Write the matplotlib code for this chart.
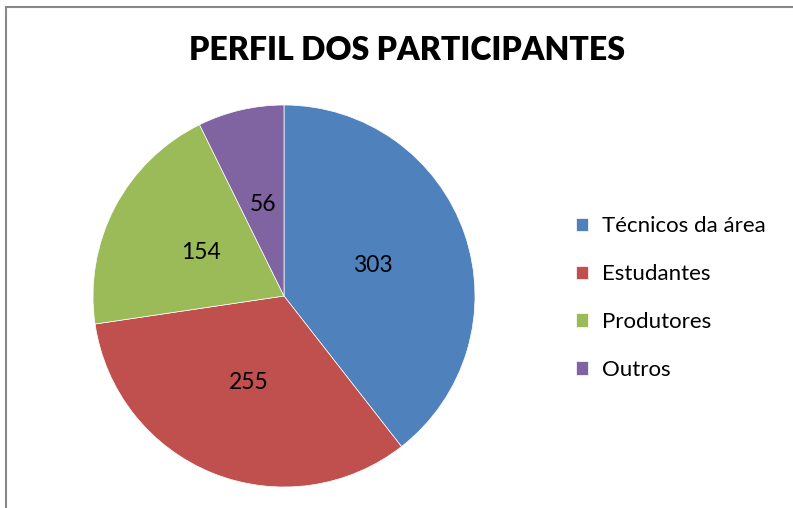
import matplotlib
matplotlib.use('Agg')
import matplotlib.pyplot as plt
from matplotlib.patches import Rectangle

# data
categorias = ['Técnicos da área', 'Estudantes', 'Produtores', 'Outros']
valores = [303, 255, 154, 56]
cores = ['#4F81BD', '#C0504D', '#9BBB59', '#8064A2']
titulo = 'PERFIL DOS PARTICIPANTES'

plt.rcParams['font.family'] = ['Lato', 'DejaVu Sans']

W, H = 793, 508
fig = plt.figure(figsize=(W / 100, H / 100), dpi=100)

# gray frame of the chart area (runs off right and bottom)
fig.patches.append(Rectangle((6 / W, -0.05), 1.2, (H - 7) / H + 0.05,
                             transform=fig.transFigure, fill=False,
                             edgecolor='#888888', linewidth=1.5))

cx, cy, r = 284, 296, 191
ax = fig.add_axes([(cx - r) / W, (H - cy - r) / H, 2 * r / W, 2 * r / H])
total = sum(valores)
wedges, _, autotexts = ax.pie(
    valores, colors=cores, startangle=90, counterclock=False, radius=1,
    autopct=lambda p: '%d' % round(p * total / 100), pctdistance=0.49,
    wedgeprops=dict(linewidth=0.5, edgecolor='white'),
    textprops=dict(fontsize=16.5, color='black'))
ax.set_xlim(-1, 1)
ax.set_ylim(-1, 1)
ax.set_aspect('equal')

fig.text(407 / W, 1 - 50 / H, titulo, ha='center', va='center',
         fontsize=23, fontweight='heavy')

leg = fig.legend(wedges, categorias, loc='center left',
                 bbox_to_anchor=(556 / W, 1 - 298 / H), frameon=False,
                 fontsize=16, handlelength=0.55, handleheight=0.55,
                 handletextpad=0.6, labelspacing=1.25)

fig.savefig('out.png', dpi=100)
